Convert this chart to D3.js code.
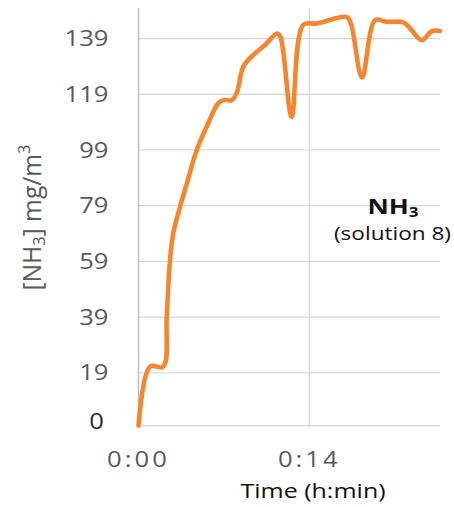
<!DOCTYPE html>
<html>
<head>
<meta charset="utf-8">
<script src="https://cdn.jsdelivr.net/npm/d3@7"></script>
<style>
  html, body { margin: 0; padding: 0; background: #fff; }
  svg { display: block; }
  text { font-family: "Open Sans", "Noto Sans", sans-serif; }
</style>
</head>
<body>
<svg id="chart" width="454" height="507"></svg>
<script>
// NH3 concentration over elapsed time (minutes), solution 8
const timeMin = [0, 0.94, 2.03, 2.31, 2.58, 2.85, 3.26, 3.56, 3.97, 4.77, 5.59, 6.54, 6.95, 7.64,
                 8.05, 8.59, 9.41, 10.37, 11.35, 11.63, 12.55, 13.50, 14.61, 17.07, 17.42, 18.32,
                 19.39, 20.34, 21.70, 22.25, 23.21, 24.06, 24.71];
const nh3 = [0, 21.2, 21.2, 39.1, 59.5, 69.1, 76.3, 81.1, 87.1, 99.0, 107.4, 115.8, 116.9, 116.9,
             119.4, 128.9, 133.1, 136.7, 140.8, 139.6, 110.9, 143.9, 144.4, 146.7, 144.2, 125.0,
             145.6, 145.0, 144.8, 142.7, 138.4, 141.7, 141.7];

const yTicks = [0, 19, 39, 59, 79, 99, 119, 139];
const xTicks = [0, 14];
const xTickLabels = ["0:00", "0:14"];

const yTitle = { pre: "[NH", sub: "3", mid: "] mg/m", sup: "3" };
const xTitle = "Time (h:min)";
const noteTitle = { main: "NH", sub: "3" };
const noteText = "(solution 8)";

// glyphs in this chart are drawn a little wider than the font's natural shape
const SX = 1.22;

const svg = d3.select("#chart");
const plot = { left: 138.5, right: 440, top: 7.9, bottom: 425.7 };

const x = d3.scaleLinear().domain([0, 24.71]).range([plot.left, plot.right]);
const y = d3.scaleLinear().domain([0, 150]).range([plot.bottom, plot.top]);

// horizontal gridlines
svg.append("g")
  .selectAll("line")
  .data(yTicks.filter(v => v > 0))
  .join("line")
  .attr("x1", plot.left).attr("x2", plot.right)
  .attr("y1", d => y(d)).attr("y2", d => y(d))
  .attr("stroke", "#d9d9d9").attr("stroke-width", 1.3);

// vertical gridlines
svg.append("g")
  .selectAll("line")
  .data(xTicks.filter(v => v > 0))
  .join("line")
  .attr("x1", d => x(d)).attr("x2", d => x(d))
  .attr("y1", plot.top).attr("y2", plot.bottom)
  .attr("stroke", "#d9d9d9").attr("stroke-width", 1.3);

// axis lines
svg.append("line")
  .attr("x1", plot.left).attr("x2", plot.left).attr("y1", plot.top).attr("y2", plot.bottom)
  .attr("stroke", "#bfbfbf").attr("stroke-width", 1.5);
svg.append("line")
  .attr("x1", plot.left).attr("x2", plot.right).attr("y1", plot.bottom).attr("y2", plot.bottom)
  .attr("stroke", "#d9d9d9").attr("stroke-width", 1.5);

// y tick labels
svg.append("g")
  .selectAll("text")
  .data(yTicks)
  .join("text")
  .attr("transform", d => `translate(${d === 0 ? 104 : 108.5},${y(d) + (d === 0 ? -4 : 0)}) scale(${SX},1)`)
  .attr("text-anchor", "end")
  .attr("dy", "0.36em")
  .attr("font-size", 21)
  .attr("fill", d => d === 0 ? "#2b2b2b" : "#595959")
  .text(d => d);

// x tick labels
svg.append("g")
  .selectAll("text")
  .data(xTicks)
  .join("text")
  .attr("transform", d => `translate(${x(d)},459) scale(${SX},1)`)
  .attr("text-anchor", "middle")
  .attr("dy", "0.36em")
  .attr("font-size", 21)
  .attr("letter-spacing", 2.5)
  .attr("fill", "#595959")
  .text((d, i) => xTickLabels[i]);

// concentration line
const line = d3.line()
  .x((d, i) => x(timeMin[i]))
  .y(d => y(d))
  .curve(d3.curveCatmullRom.alpha(0.5));

svg.append("path")
  .datum(nh3)
  .attr("d", line)
  .attr("fill", "none")
  .attr("stroke", "#f4862f")
  .attr("stroke-width", 4.6)
  .attr("stroke-linejoin", "round")
  .attr("stroke-linecap", "round");

// x axis title
svg.append("text")
  .attr("transform", `translate(313,498) scale(${SX},1)`)
  .attr("text-anchor", "middle")
  .attr("font-size", 20.5)
  .attr("fill", "#111")
  .text(xTitle);

// y axis title
const yt = svg.append("text")
  .attr("transform", `translate(40.5,217.5) scale(${SX},1) rotate(-90)`)
  .attr("text-anchor", "middle")
  .attr("font-size", 21)
  .attr("textLength", 146)
  .attr("lengthAdjust", "spacingAndGlyphs")
  .attr("fill", "#595959");
yt.append("tspan").text(yTitle.pre);
yt.append("tspan").attr("font-size", 14).attr("dy", 4).text(yTitle.sub);
yt.append("tspan").attr("dy", -4).text(yTitle.mid);
yt.append("tspan").attr("font-size", 14).attr("dy", -9).text(yTitle.sup);

// annotation
const nt = svg.append("text")
  .attr("transform", `translate(393,213.5) scale(${SX},1)`)
  .attr("text-anchor", "middle")
  .attr("font-size", 21.5)
  .attr("font-weight", "bold")
  .attr("fill", "#111");
nt.append("tspan").text(noteTitle.main);
nt.append("tspan").attr("font-size", 14).attr("dy", 3).text(noteTitle.sub);

svg.append("text")
  .attr("transform", `translate(392.5,240) scale(${SX},1)`)
  .attr("text-anchor", "middle")
  .attr("font-size", 18.5)
  .attr("fill", "#111")
  .text(noteText);
</script>
</body>
</html>
